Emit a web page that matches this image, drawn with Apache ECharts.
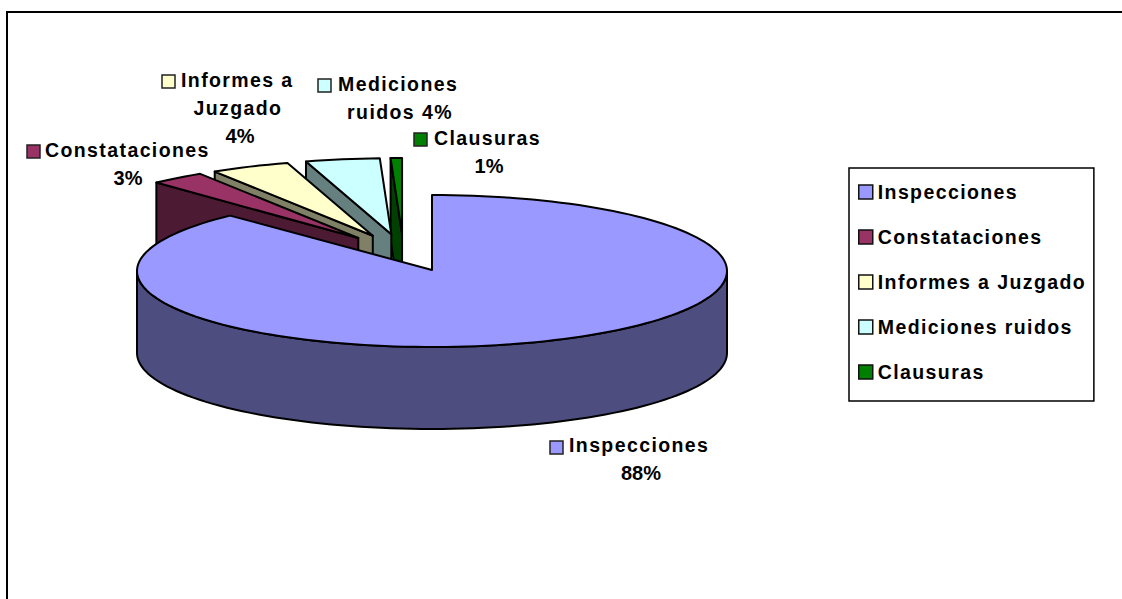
<!DOCTYPE html>
<html><head><meta charset="utf-8">
<style>
html,body{margin:0;padding:0;background:#fff}
#c{width:1122px;height:599px}
/* spaced-out word lines use this exact size; percent lines do not */
text[style*="19.5px"]{letter-spacing:1.4px}
</style>
<script src="https://cdn.jsdelivr.net/npm/echarts@6/dist/echarts.min.js"></script>
</head><body><div id="c"></div>
<script>
const categories = ['Inspecciones','Constataciones','Informes a Juzgado','Mediciones ruidos','Clausuras'];
const values = [88, 3, 4.33, 4.05, 0.62];
const topColors = ['#9999FF','#993366','#FFFFCC','#CCFFFF','#008000'];
const sideColors = ['#4D4D80','#4D1A33','#808066','#668080','#004000'];

const total = values.reduce((a,b)=>a+b,0);
const cum = []; values.reduce((a,v,i)=>(cum[i]=a, a+v),0);
const CX=432, CY=271, RX=295, RY=76, DEPTH=82;
const APEX_Y=270, EXPLODE=0.25, GROUP_DX=-28.5, GROUP_DY=-18;
const BF='bold 19.5px "Liberation Sans", Arial, sans-serif';
const PF='bold 20px "Liberation Sans", Arial, sans-serif';
const pct = i => Math.round(values[i]/total*100)+'%';
const labelLayout = [
 {sw:[550,441], lines:[[()=>categories[0],569,445,'left',BF],[()=>pct(0),641,473,'center',PF]]},
 {sw:[27,145], lines:[[()=>categories[1],45,150,'left',BF],[()=>pct(1),128,178,'center',PF]]},
 {sw:[162,75], lines:[[()=>'Informes a',181,80,'left',BF],[()=>'Juzgado',238,108,'center',BF],[()=>pct(2),240,136,'center',PF]]},
 {sw:[318,79], lines:[[()=>'Mediciones',338,84,'left',BF],[()=>'ruidos '+pct(3),400,112,'center',BF]]},
 {sw:[414,133], lines:[[()=>categories[4],434,138,'left',BF],[()=>pct(4),489,166,'center',PF]]}
];
const rad = d => d*Math.PI/180;
function arc(ox,oy,a0,a1,dy){
  const pts=[], n=Math.max(2,Math.ceil(Math.abs(a1-a0)/2));
  for(let k=0;k<=n;k++){const a=rad(a0+(a1-a0)*k/n);
    pts.push([ox+RX*Math.sin(a), oy-RY*Math.cos(a)+(dy||0)]);}
  return pts;
}
const lineStyle = (fill)=>({fill, stroke:'#000', lineWidth:2, lineJoin:'round'});
function poly(points, fill){ return {type:'polygon', shape:{points}, style:lineStyle(fill), silent:true}; }

function renderSlice(i){
  return function(params, api){
    const v = api.value(0);
    const a0 = cum[i]/total*360, a1 = (cum[i]+v)/total*360, mid=(a0+a1)/2;
    const children=[];
    if(i===0){
      children.push(poly(arc(CX,CY,90,270,0).concat(arc(CX,CY,270,90,DEPTH)), sideColors[0]));
      children.push(poly([[CX,APEX_Y]].concat(arc(CX,CY,a0,a1,0)), topColors[0]));
    } else {
      const ax = CX+GROUP_DX+EXPLODE*RX*Math.sin(rad(mid));
      const ay = CY+GROUP_DY-EXPLODE*RY*Math.cos(rad(mid));
      const o = arc(ax,ay,a0,a1,0);
      children.push(poly([[ax,ay],o[0],[o[0][0],o[0][1]+DEPTH],[ax,ay+DEPTH]], sideColors[i]));
      children.push(poly([[ax,ay]].concat(o), topColors[i]));
    }
    const L = labelLayout[i];
    children.push({type:'rect', shape:{x:L.sw[0],y:L.sw[1],width:13,height:13},
      style:{fill:topColors[i],stroke:'#222',lineWidth:1.5}, silent:true, z2:50});
    L.lines.forEach(l=>children.push({type:'text', silent:true, z2:50,
      style:{text:l[0](),x:l[1],y:l[2],align:l[3],verticalAlign:'middle',font:l[4],fill:'#000'}}));
    return {type:'group', children};
  };
}
const order = categories.map((_,i)=>i).reverse();
const series = order.map((i,k)=>({
  type:'custom', name:categories[i], coordinateSystem:'none', z:2+k,
  itemStyle:{color:topColors[i]}, data:[[values[i]]], renderItem:renderSlice(i), silent:true, clip:false
}));

const chart = echarts.init(document.getElementById('c'), null, {renderer:'svg'});
chart.setOption({
  backgroundColor:'#fff', animation:false,
  graphic:[{type:'polyline', z:0, silent:true, shape:{points:[[7,610],[7,12],[1130,12]]},
    style:{fill:'none',stroke:'#000',lineWidth:2}}],
  legend:{data:categories, orient:'vertical', left:849, top:168, z:20,
    selectedMode:false, icon:'rect', itemWidth:14, itemHeight:14, itemGap:25, align:'left',
    padding:[14,33,19,9], borderColor:'#000', borderWidth:1.5, backgroundColor:'#fff',
    itemStyle:{borderColor:'#111',borderWidth:1.5},
    textStyle:{fontFamily:'"Liberation Sans", Arial, sans-serif',fontWeight:'bold',fontSize:19.5,color:'#000'}
  },
  series
});
</script></body></html>
